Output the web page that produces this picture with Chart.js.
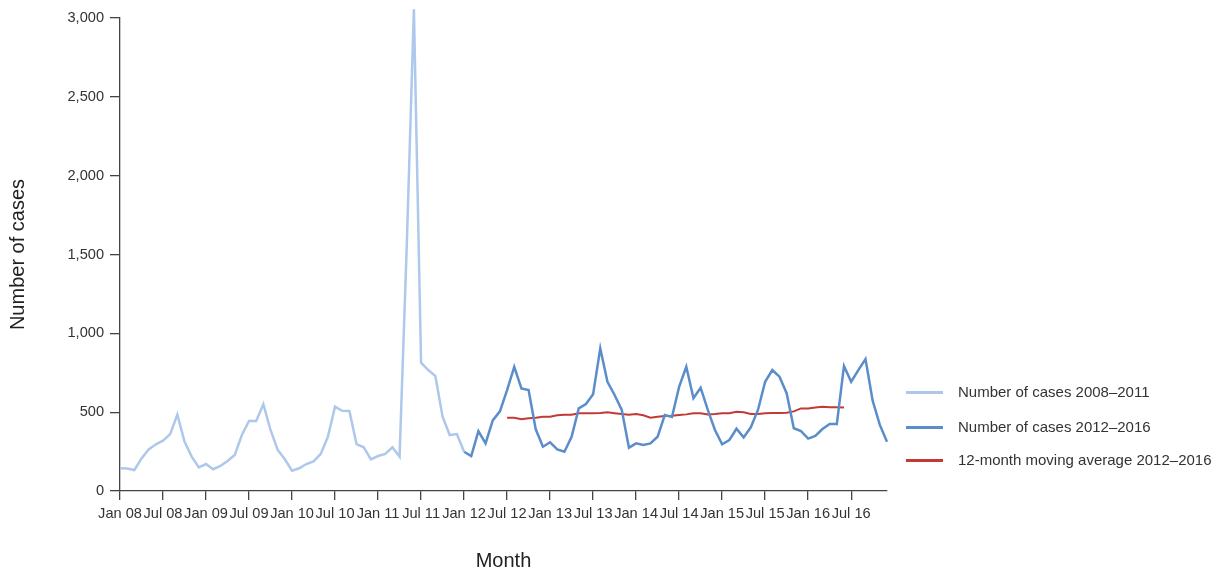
<!DOCTYPE html>
<html>
<head>
<meta charset="utf-8">
<script src="https://cdn.jsdelivr.net/npm/chart.js@4"></script>
<style>
  html, body { margin: 0; padding: 0; background: #fff; }
  #wrap { position: relative; width: 1220px; height: 573px; }
  .leg { position: absolute; left: 906px; font-family: "Liberation Sans", Arial, sans-serif; font-size: 15px; color: #333; white-space: nowrap; }
  .leg span.sw { position: absolute; left: 0; width: 37px; height: 2.5px; top: -1px; }
  .leg span.tx { position: absolute; left: 52px; top: -10px; line-height: 19px; }
</style>
</head>
<body>
<div id="wrap">
  <canvas id="c"></canvas>
  <div class="leg" style="top:392px"><span class="sw" style="background:#aec8ec"></span><span class="tx">Number of cases 2008–2011</span></div>
  <div class="leg" style="top:427px"><span class="sw" style="background:#5b8dcb"></span><span class="tx">Number of cases 2012–2016</span></div>
  <div class="leg" style="top:460px"><span class="sw" style="background:#c23a36"></span><span class="tx">12-month moving average 2012–2016</span></div>
</div>
<script>
// Categories: months Jan 2008 .. Dec 2016
const years = ['08','09','10','11','12','13','14','15','16'];
const monthNames = ['Jan','Feb','Mar','Apr','May','Jun','Jul','Aug','Sep','Oct','Nov','Dec'];
const months = [];
years.forEach(y => monthNames.forEach(m => months.push(m + ' ' + y)));

// Tick labels shown on the x axis
const tickLabels = ['Jan 08','Jul 08','Jan 09','Jul 09','Jan 10','Jul 10','Jan 11','Jul 11',
  'Jan 12','Jul 12','Jan 13','Jul 13','Jan 14','Jul 14','Jan 15','Jul 15','Jan 16','Jul 16'];

// Number of cases 2008–2011 (Jan 08 .. Jan 12)
const cases2008_2011 = [144,143,133,207,264,296,319,361,484,313,218,150,
  171,138,159,190,228,355,444,444,550,387,260,201,
  129,144,171,188,235,344,535,509,507,298,277,201,
  222,235,277,218,1550,3055,814,767,729,471,355,361,
  249];
const start2008 = 'Jan 08';

// Number of cases 2012–2016 (Jan 12 .. Dec 16)
const cases2012_2016 = [249,222,380,302,448,505,640,788,651,641,391,281,
  309,264,249,344,524,552,613,905,693,609,514,275,
  302,292,302,344,482,469,660,788,588,655,514,387,
  296,323,395,340,404,514,693,767,725,620,398,380,
  332,349,393,425,425,793,693,767,837,573,419,313];
const start2012 = 'Jan 12';

// 12-month moving average 2012–2016 (Jul 12 .. Jun 16)
const movingAvg = [465,465,455,461,465,471,471,480,484,484,493,493,
  493,495,499,493,488,484,488,480,465,471,476,478,
  482,486,493,493,486,488,493,493,503,499,488,488,
  493,495,495,497,505,524,524,529,535,531,531,529];
const startAvg = 'Jul 12';

const yTicks = [0, 500, 1000, 1500, 2000, 2500, 3000];

function place(values, startLabel) {
  const s = months.indexOf(startLabel);
  return months.map((_, i) => (i >= s && i < s + values.length) ? values[i - s] : null);
}

const font = "'Liberation Sans', Arial, sans-serif";
const axisColor = '#444';

new Chart(document.getElementById('c'), {
  type: 'line',
  data: {
    labels: months,
    datasets: [
      { label: 'Number of cases 2008–2011', data: place(cases2008_2011, start2008),
        borderColor: '#aec8ec', borderWidth: 2.5, pointRadius: 0, tension: 0, clip: false },
      { label: 'Number of cases 2012–2016', data: place(cases2012_2016, start2012),
        borderColor: '#5b8dcb', borderWidth: 2.5, pointRadius: 0, tension: 0, clip: false },
      { label: '12-month moving average 2012–2016', data: place(movingAvg, startAvg),
        borderColor: '#c23a36', borderWidth: 2, pointRadius: 0, tension: 0, clip: false }
    ]
  },
  options: {
    responsive: true,
    maintainAspectRatio: false,
    animation: false,
    layout: { padding: { top: 18, right: 333, bottom: 0, left: 0 } },
    plugins: { legend: { display: false }, tooltip: { enabled: false } },
    scales: {
      x: {
        type: 'category',
        offset: false,
        afterFit: (s) => { s.height = 82; },
        border: { display: true, color: axisColor, width: 1.3 },
        grid: { display: true, drawOnChartArea: false, drawTicks: true, tickLength: 9, color: axisColor, lineWidth: 1.3 },
        ticks: {
          autoSkip: false, maxRotation: 0, minRotation: 0, padding: 5,
          color: '#333', font: { family: font, size: 14.6 },
          callback: function(v, i) {
            const lab = months[i];
            return tickLabels.includes(lab) ? lab : null;
          }
        },
        title: { display: true, text: 'Month', color: '#222', font: { family: font, size: 20 }, padding: { top: 0, bottom: 0 } }
      },
      y: {
        min: 0, max: 3000,
        afterFit: (s) => { s.width = 120; },
        afterBuildTicks: (s) => { s.ticks = yTicks.map(v => ({ value: v })); },
        border: { display: true, color: axisColor, width: 1.3 },
        grid: { display: true, drawOnChartArea: false, drawTicks: true, tickLength: 10, color: axisColor, lineWidth: 1.3 },
        ticks: {
          padding: 6, color: '#333', font: { family: font, size: 14.6 },
          callback: (v) => Number(v).toLocaleString('en-US')
        },
        title: { display: true, text: 'Number of cases', color: '#222', font: { family: font, size: 20 }, padding: { top: 6, bottom: 0 } }
      }
    }
  }
});
</script>
</body>
</html>
